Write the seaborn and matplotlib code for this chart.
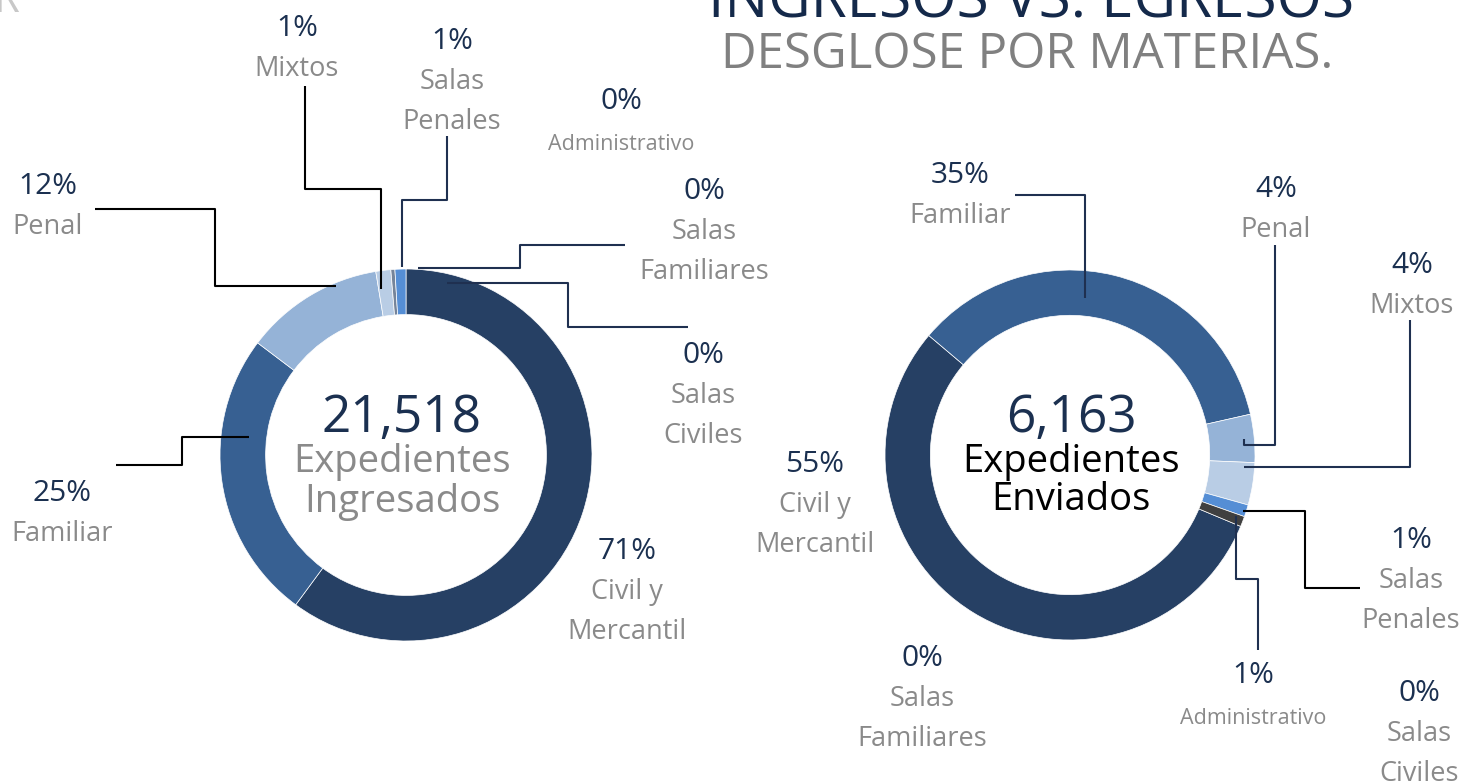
import matplotlib
matplotlib.use("Agg")
import matplotlib.pyplot as plt
import seaborn as sns
import numpy as np

# ---------------- data ----------------
categories_in = ["Civil y Mercantil", "Familiar", "Penal", "Mixtos",
                 "Administrativo", "Salas Penales", "Salas Familiares", "Salas Civiles"]
share_in = [60.1, 25.2, 12.1, 1.3, 0.35, 0.95, 0.0, 0.0]          # ring share (%)
pct_in = ["71%", "25%", "12%", "1%", "0%", "1%", "0%", "0%"]        # printed labels
total_in = "21,518"

categories_out = ["Civil y Mercantil", "Familiar", "Penal", "Mixtos",
                  "Salas Penales", "Administrativo", "Salas Familiares", "Salas Civiles"]
share_out = [54.9, 35.3, 4.2, 3.7, 1.05, 0.9, 0.0, 0.0]
pct_out = ["55%", "35%", "4%", "4%", "1%", "1%", "0%", "0%"]
total_out = "6,163"

title_top = "INGRESOS VS. EGRESOS"
title_sub = "DESGLOSE POR MATERIAS."

# ---------------- styles ----------------
sns.set_theme(style="white")
plt.rcParams["font.family"] = ["Open Sans", "DejaVu Sans"]

colors_in = {"Civil y Mercantil": "#264064", "Familiar": "#376092", "Penal": "#95B3D7",
             "Mixtos": "#B9CDE5", "Administrativo": "#75849A", "Salas Penales": "#558ED5",
             "Salas Familiares": "#4F81BD", "Salas Civiles": "#1F3864"}
colors_out = dict(colors_in)
colors_out["Administrativo"] = "#404040"

NAVY = "#1B3050"
GRAY = "#8A8A8A"

W, H = 1468, 783
fig = plt.figure(figsize=(W / 100, H / 100), dpi=100)
ax = fig.add_axes([0, 0, 1, 1])


def Y(y):
    return H - y


def donut(cx, cy, r, cats, vals, cols, start_cw):
    v = [x for x in vals if x > 0]
    c = [cols[k] for k, x in zip(cats, vals) if x > 0]
    ax.pie(v, colors=c, startangle=90 - start_cw, counterclock=False,
           center=(cx, Y(cy)), radius=r,
           wedgeprops=dict(width=r * 0.245, edgecolor="white", linewidth=0.5))


def anchor(cx, cy, r, vals, start_cw, idx, frac, rfac, extra=0.0):
    tot = float(sum(vals))
    cum = sum(vals[:idx])
    a0 = start_cw + 360 * cum / tot
    span = 360 * vals[idx] / tot
    a = np.deg2rad(a0 + frac * span + extra)
    return cx + r * rfac * np.sin(a), cy - r * rfac * np.cos(a)


def leader(pts, color):
    xs = [p[0] for p in pts]
    ys = [Y(p[1]) for p in pts]
    ax.plot(xs, ys, color=color, lw=1.5, solid_capstyle="butt", zorder=5)


def split_name(name):
    if name.startswith("Salas "):
        return ["Salas", name[6:]]
    if name == "Civil y Mercantil":
        return ["Civil y", "Mercantil"]
    return [name]


def label(x, base, pct, name):
    ax.text(x, Y(base), pct, ha="center", va="baseline", fontsize=21.5, color=NAVY)
    small = name == "Administrativo"
    lines = split_name(name)
    b = base + (41 if small else 40)
    for ln in lines:
        ax.text(x, Y(b), ln, ha="center", va="baseline",
                fontsize=15.5 if small else 19.5, color=GRAY)
        b += 40


# ---------------- left donut ----------------
LCX, LCY, LR, LS = 406, 455, 186, 0.0
donut(LCX, LCY, LR, categories_in, share_in, colors_in, LS)

lab_in = {"Mixtos": (297, 36), "Salas Penales": (452, 49), "Administrativo": (621, 109),
          "Salas Familiares": (704, 199), "Salas Civiles": (703, 363),
          "Civil y Mercantil": (627, 559), "Familiar": (62, 501), "Penal": (48, 194)}
for k, p in zip(categories_in, pct_in):
    label(lab_in[k][0], lab_in[k][1], p, k)

# leader lines (left)
i = categories_in.index
ax_, ay_ = anchor(LCX, LCY, LR, share_in, LS, i("Penal"), 0.70, 0.985)
leader([(95, 209), (215, 209), (215, ay_), (ax_, ay_)], "#000000")
ax_, ay_ = anchor(LCX, LCY, LR, share_in, LS, i("Familiar"), 0.665, 0.85)
leader([(116, 465), (182, 465), (182, ay_), (ax_, ay_)], "#000000")
ax_, ay_ = anchor(LCX, LCY, LR, share_in, LS, i("Mixtos"), 0.2, 0.9)
leader([(305, 86), (305, 189), (ax_, 189), (ax_, ay_)], "#000000")
ax_, ay_ = anchor(LCX, LCY, LR, share_in, LS, i("Salas Penales"), 0.6, 1.01)
leader([(447, 136), (447, 200), (ax_, 200), (ax_, ay_)], "#1F3050")
ax_, ay_ = anchor(LCX, LCY, LR, share_in, LS, i("Salas Familiares"), 0.0, 1.01, 3.65)
leader([(625, 245), (520, 245), (520, ay_), (ax_, ay_)], "#1F3050")
ax_, ay_ = anchor(LCX, LCY, LR, share_in, LS, i("Salas Civiles"), 0.0, 0.95, 13.4)
leader([(688, 327), (568, 327), (568, ay_), (ax_, ay_)], "#1F3050")

ax.text(LCX - 4, Y(432), total_in, ha="center", va="baseline", fontsize=37, color=NAVY)
ax.text(LCX - 4, Y(472), "Expedientes", ha="center", va="baseline", fontsize=27.5, color=GRAY)
ax.text(LCX - 4, Y(512), "Ingresados", ha="center", va="baseline", fontsize=27.5, color=GRAY)

# ---------------- right donut ----------------
RCX, RCY, RR, RS = 1070, 455, 185, 112.7
donut(RCX, RCY, RR, categories_out, share_out, colors_out, RS)

lab_out = {"Familiar": (960, 183), "Penal": (1276, 197), "Mixtos": (1412, 273),
           "Salas Penales": (1411, 548), "Administrativo": (1253, 683),
           "Salas Familiares": (922, 666), "Salas Civiles": (1419, 701),
           "Civil y Mercantil": (815, 472)}
for k, p in zip(categories_out, pct_out):
    label(lab_out[k][0], lab_out[k][1], p, k)

j = categories_out.index
bx, by = anchor(RCX, RCY, RR, share_out, RS, j("Familiar"), 0.436, 0.855)
leader([(1015, 195), (bx, 195), (bx, by)], "#1F3050")
bx, by = anchor(RCX, RCY, RR, share_out, RS, j("Penal"), 0.63, 0.94)
leader([(1275, 245), (1275, by), (bx, by), (bx, by - 6)], "#1F3050")
bx, by = anchor(RCX, RCY, RR, share_out, RS, j("Mixtos"), 0.11, 0.94)
leader([(1410, 320), (1410, by), (bx, by)], "#1F3050")
bx, by = anchor(RCX, RCY, RR, share_out, RS, j("Salas Penales"), 0.62, 0.985)
leader([(1360, 588), (1305, 588), (1305, by), (bx, by)], "#000000")
bx, by = anchor(RCX, RCY, RR, share_out, RS, j("Administrativo"), 0.2, 0.955)
leader([(1258, 650), (1258, 579), (bx, 579), (bx, by)], "#1F3050")

ax.text(RCX + 1, Y(432), total_out, ha="center", va="baseline", fontsize=37, color=NAVY)
ax.text(RCX + 1, Y(472), "Expedientes", ha="center", va="baseline", fontsize=27.5, color="#000000")
ax.text(RCX + 1, Y(510), "Enviados", ha="center", va="baseline", fontsize=27.5, color="#000000")

# ---------------- titles ----------------
ax.text(1031, Y(17), title_top, ha="center", va="baseline", fontsize=42, color="#14294A")
ax.text(1027, Y(68), title_sub, ha="center", va="baseline", fontsize=35.5, color="#808080")
ax.text(-6, Y(12), "R", ha="left", va="baseline", fontsize=30, color="#C8C8C8")

ax.set_xlim(0, W)
ax.set_ylim(0, H)
ax.set_aspect("equal")
ax.axis("off")

fig.savefig("out.png", dpi=100, facecolor="white")
